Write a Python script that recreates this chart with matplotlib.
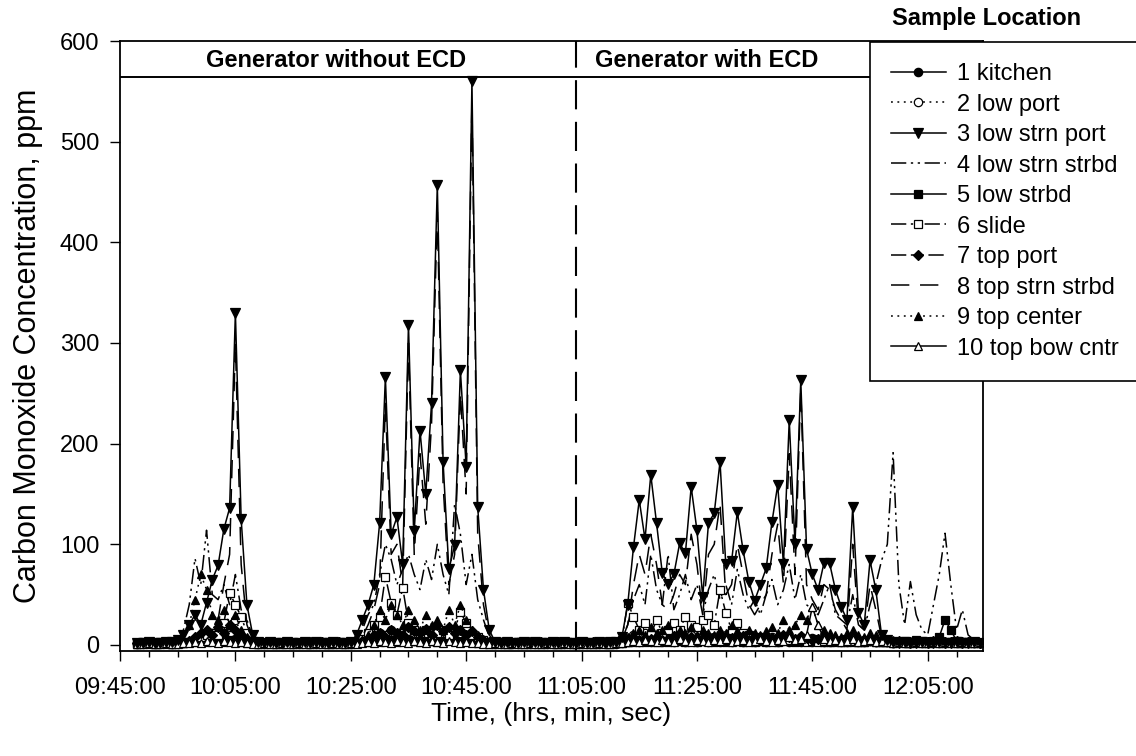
import matplotlib
matplotlib.use("Agg")
import matplotlib.pyplot as plt
import matplotlib.dates as mdates
import pandas as pd

plt.rcParams['font.family'] = ['Liberation Sans', 'DejaVu Sans']

# logger samples, one per minute, 09:48 .. 12:14
sample_times = pd.date_range("2004-08-01 09:48", "2004-08-01 12:14", freq="1min")
ecd_start = pd.Timestamp("2004-08-01 11:04")

kitchen = [2, 2, 3, 2, 2, 3, 2, 2, 3, 3,
           4, 3, 5, 4, 6, 5, 4, 6, 4, 3,
           3, 2, 2, 3, 2, 2, 3, 2, 2, 3,
           2, 2, 3, 2, 2, 3, 2, 2, 3, 3,
           4, 5, 4, 6, 5, 4, 6, 5, 4, 5,
           6, 4, 5, 4, 6, 5, 4, 5, 4, 3,
           3, 2, 2, 3, 2, 2, 3, 2, 2, 3,
           2, 2, 3, 2, 2, 3, 2, 2, 3, 2,
           2, 3, 2, 2, 3, 3, 4, 3, 4, 3,
           4, 3, 4, 3, 4, 3, 4, 3, 4, 3,
           4, 3, 4, 3, 4, 3, 4, 3, 4, 3,
           4, 3, 4, 3, 4, 3, 4, 3, 4, 3,
           3, 4, 3, 3, 4, 3, 3, 4, 3, 3,
           3, 2, 3, 2, 2, 3, 2, 2, 3, 2,
           2, 3, 2, 2, 3, 2, 2]

low_port = [1, 1, 2, 1, 1, 2, 1, 1, 2, 3,
            6, 8, 10, 12, 15, 10, 18, 25, 12, 6,
            2, 1, 1, 2, 1, 1, 2, 1, 1, 2,
            1, 1, 2, 1, 1, 2, 1, 1, 2, 3,
            5, 8, 12, 10, 15, 12, 10, 14, 12, 10,
            12, 10, 15, 12, 10, 14, 12, 10, 8, 6,
            3, 2, 1, 1, 2, 1, 1, 2, 1, 1,
            2, 1, 1, 2, 1, 1, 2, 1, 1, 2,
            1, 1, 2, 1, 2, 6, 10, 8, 12, 6,
            10, 8, 12, 6, 9, 8, 10, 7, 8, 6,
            8, 6, 10, 7, 9, 6, 8, 5, 7, 6,
            8, 6, 9, 7, 6, 8, 5, 7, 6, 5,
            6, 4, 5, 4, 6, 4, 5, 4, 3, 4,
            3, 2, 2, 3, 2, 2, 3, 2, 2, 3,
            2, 2, 3, 2, 2, 2, 2]

low_strn_port = [2, 2, 3, 2, 2, 3, 3, 5, 10, 20,
                 30, 20, 42, 65, 79, 115, 136, 330, 125, 40,
                 10, 3, 2, 3, 2, 2, 3, 2, 2, 3,
                 2, 3, 2, 2, 3, 2, 2, 3, 10, 25,
                 40, 60, 121, 266, 110, 127, 80, 318, 113, 213,
                 150, 240, 457, 182, 75, 99, 273, 177, 560, 137,
                 55, 15, 3, 2, 3, 2, 2, 3, 2, 3,
                 2, 2, 3, 2, 3, 2, 2, 3, 2, 2,
                 3, 2, 3, 3, 8, 40, 97, 144, 105, 169,
                 121, 71, 61, 70, 101, 91, 157, 114, 48, 121,
                 131, 182, 80, 83, 132, 94, 63, 44, 60, 76,
                 122, 159, 80, 223, 100, 263, 95, 70, 55, 81,
                 81, 55, 38, 25, 137, 32, 20, 84, 55, 10,
                 5, 3, 2, 3, 2, 2, 3, 2, 2, 3,
                 2, 2, 3, 2, 2, 3, 2]

low_strn_strbd = [1, 2, 1, 2, 1, 1, 2, 3, 15, 40,
                  86, 60, 114, 50, 45, 60, 40, 70, 35, 25,
                  8, 2, 1, 2, 1, 2, 1, 1, 2, 1,
                  2, 1, 1, 2, 1, 2, 1, 2, 5, 15,
                  30, 40, 70, 100, 85, 60, 75, 90, 70, 55,
                  85, 65, 100, 70, 50, 140, 110, 60, 90, 45,
                  25, 8, 2, 1, 2, 1, 1, 2, 1, 2,
                  1, 1, 2, 1, 2, 1, 1, 2, 1, 1,
                  2, 1, 2, 2, 5, 20, 45, 60, 40, 90,
                  55, 40, 90, 35, 50, 70, 45, 60, 30, 55,
                  70, 45, 60, 40, 75, 50, 35, 45, 30, 50,
                  65, 40, 55, 80, 45, 70, 40, 35, 30, 45,
                  60, 30, 25, 20, 50, 20, 15, 40, 60, 84,
                  100, 191, 60, 20, 63, 30, 15, 10, 40, 70,
                  111, 60, 15, 35, 10, 5, 2]

low_strbd = [1, 2, 2, 1, 2, 2, 1, 2, 2, 3,
             3, 4, 3, 5, 4, 3, 5, 4, 3, 2,
             2, 1, 2, 2, 1, 2, 2, 1, 2, 2,
             1, 2, 2, 1, 2, 2, 1, 2, 2, 3,
             3, 4, 3, 4, 5, 3, 4, 5, 4, 3,
             4, 5, 3, 4, 5, 4, 3, 4, 3, 2,
             2, 1, 2, 2, 1, 2, 2, 1, 2, 2,
             1, 2, 2, 1, 2, 2, 1, 2, 2, 1,
             2, 2, 1, 2, 2, 3, 3, 4, 3, 4,
             3, 4, 3, 5, 4, 3, 4, 3, 5, 4,
             3, 4, 3, 4, 5, 3, 4, 3, 4, 3,
             4, 3, 5, 4, 3, 4, 5, 6, 4, 3,
             4, 3, 4, 6, 3, 4, 3, 5, 4, 3,
             4, 3, 3, 4, 3, 5, 4, 3, 4, 8,
             25, 15, 4, 3, 2, 3, 2]

slide = [2, 3, 2, 2, 3, 2, 2, 3, 2, 3,
         5, 8, 10, 12, 10, 22, 52, 40, 28, 12,
         4, 3, 2, 2, 3, 2, 2, 3, 2, 2,
         3, 2, 2, 3, 2, 2, 3, 2, 3, 6,
         12, 20, 28, 68, 42, 30, 57, 22, 15, 12,
         15, 10, 12, 15, 10, 15, 33, 22, 10, 8,
         5, 3, 2, 3, 2, 2, 3, 2, 2, 3,
         2, 3, 2, 2, 3, 2, 2, 3, 2, 2,
         3, 2, 2, 3, 5, 42, 28, 15, 22, 10,
         25, 12, 15, 22, 15, 28, 20, 18, 25, 30,
         20, 55, 32, 15, 22, 12, 10, 8, 6, 5,
         5, 4, 6, 5, 4, 5, 3, 4, 3, 4,
         3, 4, 3, 3, 4, 3, 3, 4, 3, 3,
         3, 2, 3, 2, 2, 3, 2, 2, 3, 2,
         2, 3, 2, 2, 3, 2, 2]

top_port = [2, 2, 3, 2, 2, 3, 2, 2, 3, 4,
            8, 12, 15, 10, 18, 12, 20, 15, 10, 6,
            3, 2, 2, 3, 2, 2, 3, 2, 2, 3,
            2, 2, 3, 2, 2, 3, 2, 2, 3, 4,
            6, 10, 12, 8, 15, 12, 10, 18, 14, 12,
            16, 10, 20, 14, 18, 12, 15, 10, 14, 8,
            5, 3, 2, 2, 3, 2, 2, 3, 2, 2,
            3, 2, 2, 3, 2, 2, 3, 2, 2, 3,
            2, 2, 3, 2, 3, 6, 8, 5, 7, 6,
            8, 5, 6, 9, 7, 5, 8, 6, 7, 5,
            6, 8, 5, 7, 6, 9, 5, 6, 8, 5,
            7, 6, 10, 8, 6, 9, 7, 5, 6, 8,
            5, 6, 4, 5, 7, 4, 5, 6, 4, 5,
            4, 3, 4, 3, 3, 4, 3, 3, 4, 3,
            3, 3, 4, 3, 3, 3, 2]

top_strn_strbd = [1, 1, 2, 1, 1, 2, 1, 1, 2, 3,
                  5, 8, 12, 20, 25, 60, 90, 300, 80, 20,
                  5, 2, 1, 1, 2, 1, 1, 2, 1, 1,
                  2, 1, 1, 2, 1, 1, 2, 1, 3, 8,
                  20, 35, 60, 240, 90, 100, 60, 300, 90, 190,
                  120, 220, 430, 160, 60, 90, 250, 150, 540, 110,
                  40, 10, 2, 1, 1, 2, 1, 1, 2, 1,
                  1, 2, 1, 1, 2, 1, 1, 2, 1, 1,
                  2, 1, 1, 2, 5, 20, 60, 90, 70, 110,
                  80, 40, 35, 50, 70, 60, 110, 80, 30, 90,
                  100, 140, 50, 60, 100, 70, 40, 30, 40, 50,
                  90, 120, 60, 190, 70, 255, 60, 45, 35, 60,
                  55, 35, 25, 15, 100, 20, 15, 60, 35, 8,
                  3, 2, 1, 2, 1, 1, 2, 1, 1, 2,
                  1, 2, 1, 1, 2, 1, 1]

top_center = [1, 2, 1, 1, 2, 1, 1, 2, 5, 20,
              45, 70, 55, 30, 25, 35, 20, 30, 15, 8,
              3, 2, 1, 1, 2, 1, 1, 2, 1, 1,
              2, 1, 1, 2, 1, 1, 2, 1, 2, 5,
              10, 20, 35, 25, 40, 30, 20, 35, 25, 15,
              30, 20, 25, 15, 35, 20, 40, 25, 15, 10,
              5, 2, 1, 2, 1, 1, 2, 1, 1, 2,
              1, 1, 2, 1, 1, 2, 1, 1, 2, 1,
              1, 2, 1, 2, 3, 8, 12, 15, 10, 18,
              12, 15, 20, 10, 15, 12, 18, 10, 15, 12,
              10, 15, 12, 20, 14, 10, 15, 12, 10, 14,
              18, 12, 25, 15, 20, 30, 25, 38, 20, 15,
              12, 10, 8, 12, 15, 10, 8, 12, 10, 8,
              6, 5, 4, 3, 4, 3, 3, 4, 3, 3,
              4, 3, 3, 4, 3, 3, 3]

top_bow_cntr = [1, 1, 2, 1, 1, 2, 1, 1, 2, 2,
                3, 2, 4, 3, 2, 4, 3, 2, 3, 2,
                1, 1, 2, 1, 1, 2, 1, 1, 2, 1,
                1, 2, 1, 1, 2, 1, 1, 2, 1, 2,
                3, 2, 4, 3, 2, 4, 3, 2, 4, 3,
                2, 4, 3, 2, 4, 3, 2, 3, 2, 2,
                1, 1, 2, 1, 1, 2, 1, 1, 2, 1,
                1, 2, 1, 1, 2, 1, 1, 2, 1, 1,
                2, 1, 1, 2, 2, 3, 4, 3, 5, 4,
                3, 5, 4, 3, 6, 4, 3, 5, 4, 3,
                5, 4, 6, 3, 4, 5, 3, 4, 6, 4,
                3, 5, 4, 8, 5, 6, 10, 38, 20, 6,
                4, 5, 3, 4, 6, 3, 4, 5, 3, 4,
                3, 2, 3, 2, 2, 3, 2, 2, 3, 2,
                3, 2, 2, 3, 2, 2, 3]

dash_dot_dot = (0, (10, 3, 1.5, 3, 1.5, 3))
dotted = (0, (1.2, 3))

# label, values, linestyle, marker, marker face
series = [
    ("1 kitchen", kitchen, "-", "o", "k"),
    ("2 low port", low_port, dotted, "o", "white"),
    ("3 low strn port", low_strn_port, "-", "v", "k"),
    ("4 low strn strbd", low_strn_strbd, dash_dot_dot, None, "k"),
    ("5 low strbd", low_strbd, "-", "s", "k"),
    ("6 slide", slide, dash_dot_dot, "s", "white"),
    ("7 top port", top_port, (0, (10, 3, 4, 3, 1.5, 3)), "D", "k"),
    ("8 top strn strbd", top_strn_strbd, (0, (12, 7)), None, "k"),
    ("9 top center", top_center, dotted, "^", "k"),
    ("10 top bow cntr", top_bow_cntr, "-", "^", "white"),
]
marker_size = {"o": 6, "v": 6.5, "s": 6, "D": 5, "^": 6}

fig = plt.figure(figsize=(11.36, 7.56), dpi=100)
ax = fig.add_axes([120 / 1136, 1 - 651 / 756, 863 / 1136, 610 / 756])

for label, vals, ls, mk, mfc in series:
    z = 3 if label.startswith("3 ") else 2
    ax.plot(sample_times, vals, color="k", lw=1.1, ls=ls, marker=mk,
            ms=marker_size.get(mk, 0), mfc=mfc, mec="k", mew=0.9,
            label=label, zorder=z)

ax.set_xlim(pd.Timestamp("2004-08-01 09:45"), pd.Timestamp("2004-08-01 12:14:35"))
ax.set_ylim(-6, 600)
ax.set_yticks(range(0, 601, 100))
ax.xaxis.set_major_locator(mdates.MinuteLocator(byminute=[5, 25, 45]))
ax.xaxis.set_minor_locator(mdates.MinuteLocator(byminute=range(0, 60, 5)))
ax.xaxis.set_major_formatter(mdates.DateFormatter("%H:%M:%S"))
ax.tick_params(axis="x", which="major", direction="out", length=7, width=1,
               labelsize=17, pad=12)
ax.tick_params(axis="x", which="minor", direction="out", length=4, width=1)
ax.tick_params(axis="y", direction="out", length=7, width=1, labelsize=17, pad=8)
for sp in ax.spines.values():
    sp.set_linewidth(1.3)

# period band at the top
ax.axhline(564, color="k", lw=1.4, zorder=4)
ax.axvline(ecd_start, color="k", lw=1.5, ls=(0, (14, 6)), zorder=4)
ax.text(pd.Timestamp("2004-08-01 10:22:25"), 581, "Generator without ECD",
        ha="center", va="center", fontsize=17, fontweight="bold")
ax.text(pd.Timestamp("2004-08-01 11:26:45"), 581, "Generator with ECD",
        ha="center", va="center", fontsize=17, fontweight="bold")

ax.set_xlabel("Time, (hrs, min, sec)", fontsize=19, labelpad=2)
ax.set_ylabel("Carbon Monoxide Concentration, ppm", fontsize=22, labelpad=12)

leg = ax.legend(loc="upper left",
                bbox_to_anchor=(870 / 1136, 0, 300 / 1136, 1 - 42 / 756),
                mode="expand", bbox_transform=fig.transFigure,
                borderaxespad=0, fontsize=17, frameon=True, fancybox=False,
                framealpha=1, edgecolor="k", handlelength=2.3,
                handletextpad=0.5, labelspacing=0.36, borderpad=0.9)
leg.get_frame().set_linewidth(1.2)
leg.set_zorder(10)
fig.text(987 / 1136, 1 - 18 / 756, "Sample Location", ha="center", va="center",
         fontsize=17, fontweight="bold")

fig.savefig("out.png", dpi=100)
